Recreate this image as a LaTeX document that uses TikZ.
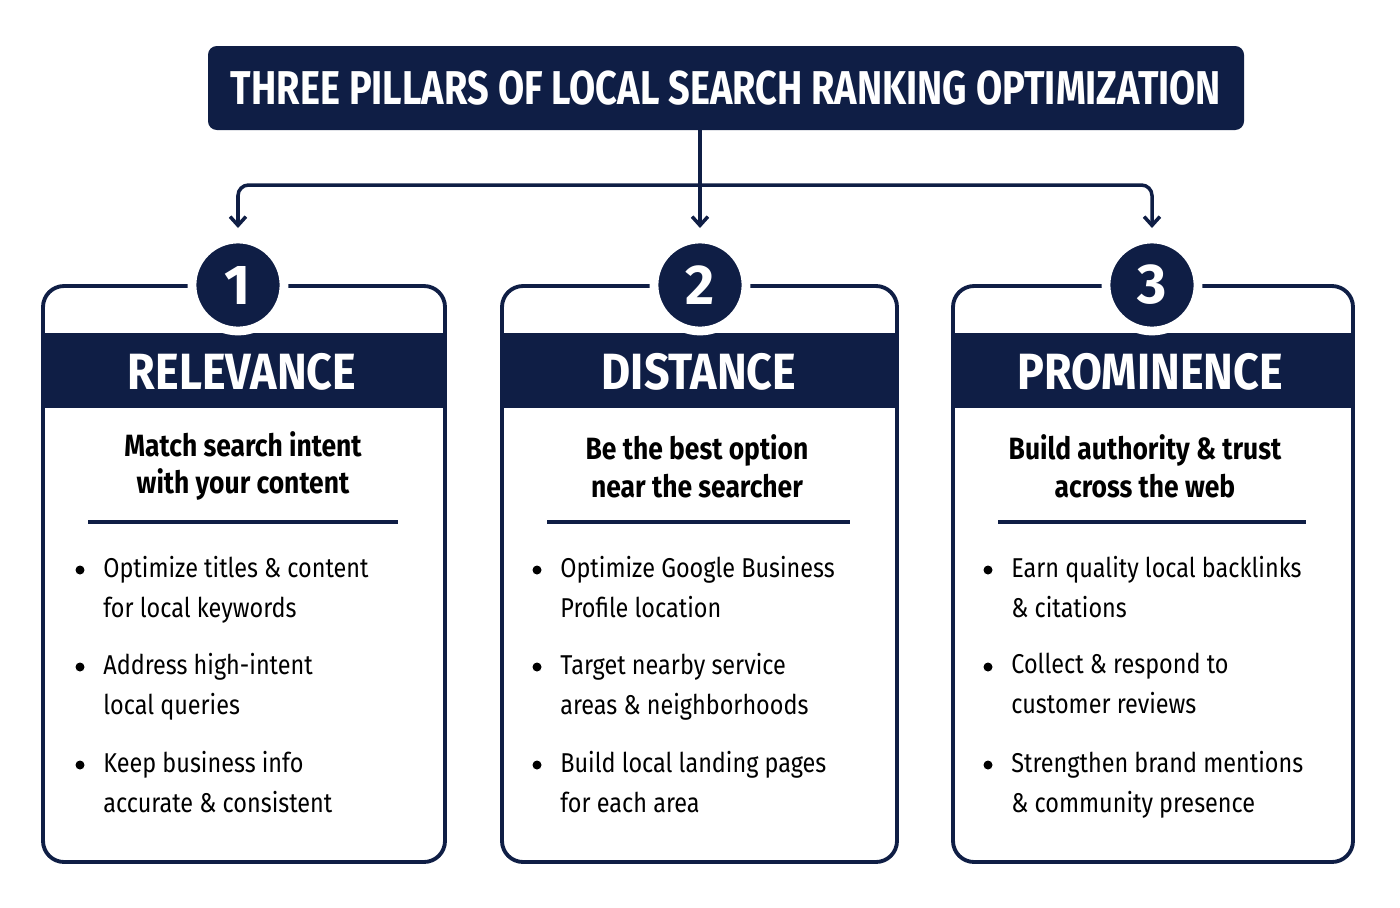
\documentclass[tikz,border=0pt]{standalone}
\usepackage{fontspec}
\setmainfont{Fira Sans}
\usetikzlibrary{arrows.meta,positioning}
\definecolor{navy}{HTML}{0F1E45}
\newcommand{\cond}[1]{\scalebox{0.86}[1]{#1}}
\begin{document}
\begin{tikzpicture}[x=0.02cm,y=-0.02cm]
        \tikzset{panel/.style = {draw=navy,line width=2.2pt,rounded corners=12pt}}
        \tikzset{band/.style = {text=white,font=\fontsize{29}{32}\selectfont\bfseries,inner sep=0pt}}
        \tikzset{num/.style = {circle,fill=navy,draw=white,line width=5pt,minimum size=92*0.02cm,text=white,font=\fontsize{32}{34}\selectfont\bfseries}}
        \tikzset{sub/.style = {align=center,text=black,font=\fontsize{17.5}{21.5}\selectfont\bfseries}}
        \tikzset{item/.style = {anchor=north west,align=left,inner sep=0pt,font=\fontsize{15.5}{22.7}\selectfont}}
        \tikzset{dot/.style = {circle,fill=black,inner sep=0pt,minimum size=9*0.02cm}}
        \tikzset{edge/.style = {-{Straight Barb[length=5pt,width=9pt]},navy,line width=2pt}}
        \useasboundingbox (0,0) rectangle (1400,907);
        % title
        \node[fill=navy,rounded corners=5pt,minimum width=1036*0.02cm,minimum height=84*0.02cm,text=white,font=\fontsize{27}{30}\selectfont\bfseries] (title) at (726,88) {\scalebox{0.8}[1]{THREE PILLARS OF LOCAL SEARCH RANKING OPTIMIZATION}};
        % panels
        \foreach \i/\xa/\xb in {1/43/445,2/502/897,3/953/1353}{
          \draw[panel] (\xa,286) rectangle (\xb,862);
          \fill[navy] (\xa+1,333) rectangle (\xb-1,408);
          \coordinate (top\i) at ({(\xa+\xb)/2},286);
          \draw[navy,line width=2pt] ({\xa+45},522) -- ({\xb-47},522);
        }
        \node[num] (n1) at (238,285) {1};
        \node[num] (n2) at (700,285) {2};
        \node[num] (n3) at (1152,285) {3};
        \node[band] (h1) at (242,372) {\scalebox{0.88}[1]{RELEVANCE}};
        \node[band] (h2) at (699,372) {\scalebox{0.88}[1]{DISTANCE}};
        \node[band] (h3) at (1150,372) {\scalebox{0.88}[1]{PROMINENCE}};
        \node[sub] (s1) at (243,466) {\cond{Match search intent}\\\cond{with your content}};
        \node[sub] (s2) at (697,466) {\cond{Be the best option}\\\cond{near the searcher}};
        \node[sub] (s3) at (1145,466) {\cond{Build authority \& trust}\\\cond{across the web}};
        % bullets
        \foreach \x/\y/\ta/\tb in {
          80/556/{Optimize titles \& content}/{for local keywords},
          80/653/{Address high-intent}/{local queries},
          80/751/{Keep business info}/{accurate \& consistent},
          537/556/{Optimize Google Business}/{Profile location},
          537/653/{Target nearby service}/{areas \& neighborhoods},
          537/751/{Build local landing pages}/{for each area},
          988/556/{Earn quality local backlinks}/{\& citations},
          988/653/{Collect \& respond to}/{customer reviews},
          988/751/{Strengthen brand mentions}/{\& community presence}}{
          \node[dot] at (\x,\y+14) {};
          \node[item] at (\x+23,\y) {\cond{\ta}\\\cond{\tb}};
        }
        % connectors
        \coordinate (j) at (700,185);
        \coordinate (a1) at (238,228);
        \coordinate (a2) at (700,228);
        \coordinate (a3) at (1152,228);
        \draw[edge] (title.south -| j) -- (a2);
        \draw[edge,rounded corners=6pt] (j) -| (a1);
        \draw[edge,rounded corners=6pt] (j) -| (a3);
\end{tikzpicture}
\end{document}
